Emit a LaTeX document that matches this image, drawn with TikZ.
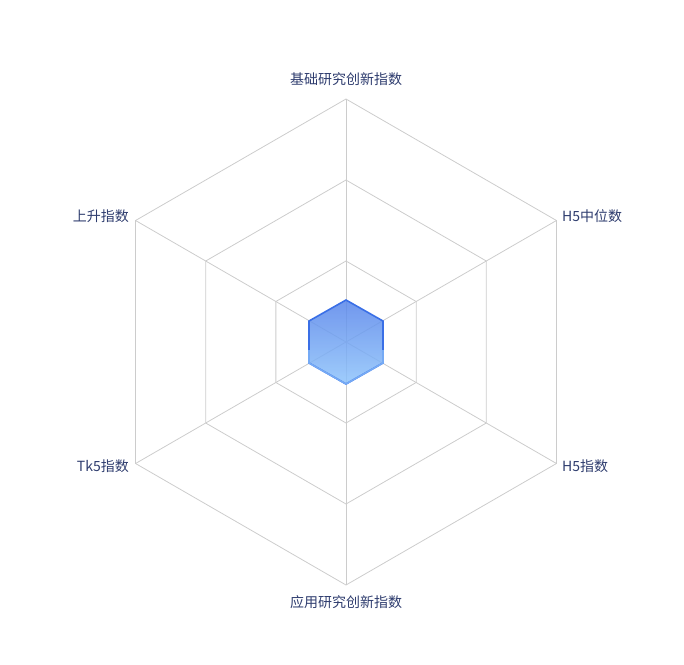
\documentclass[tikz,border=0pt]{standalone}
\usepackage{fontspec}
\setmainfont{Noto Sans CJK SC}
\usetikzlibrary{calc}
\definecolor{gridc}{HTML}{CCCCCC}
\definecolor{txtc}{HTML}{2E3C6E}
\definecolor{topb}{HTML}{3A6FE6}
\definecolor{botb}{HTML}{8EC4FB}
\begin{document}
\begin{tikzpicture}[x=1pt,y=-1pt,
  gridline/.style={draw=gridc,line width=0.8pt},
  lbl/.style={text=txtc,font=\fontsize{14}{16}\selectfont,inner sep=0pt}]
\useasboundingbox (0,0) rectangle (684,664);
\coordinate (c) at (346,342);
\foreach \r in {81,162,243}{
  \draw[gridline] ($(c)+(90:\r)$) -- ($(c)+(30:\r)$) -- ($(c)+(-30:\r)$) -- ($(c)+(-90:\r)$) -- ($(c)+(-150:\r)$) -- ($(c)+(150:\r)$) -- cycle;
}
\foreach \a/\n in {90/v1,30/v2,-30/v3,-90/v4,-150/v5,150/v6}{
  \coordinate (\n) at ($(c)+(\a:243)$);
  \draw[gridline] (c) -- (\n);
}
\path[top color=topb!85,bottom color=botb,opacity=0.85]
  (346,300) -- (383,321) -- (383,363) -- (346,384) -- (309,363) -- (309,321) -- cycle;
\draw[line width=1.6pt,draw=topb]
  (346,300) -- (383,321) -- (383,363) -- (346,384) -- (309,363) -- (309,321) -- cycle;
\draw[line width=1.6pt,draw=botb!70!topb]
  (383,350) -- (383,363) -- (346,384) -- (309,363) -- (309,350);
\node[lbl] (t1) at (346,79) {基础研究创新指数};
\node[lbl,anchor=west] (t2) at (562,216) {H5中位数};
\node[lbl,anchor=west] (t3) at (562,466) {H5指数};
\node[lbl] (t4) at (346,602) {应用研究创新指数};
\node[lbl,anchor=east] (t5) at (129,466) {Tk5指数};
\node[lbl,anchor=east] (t6) at (129,216) {上升指数};
\end{tikzpicture}
\end{document}
